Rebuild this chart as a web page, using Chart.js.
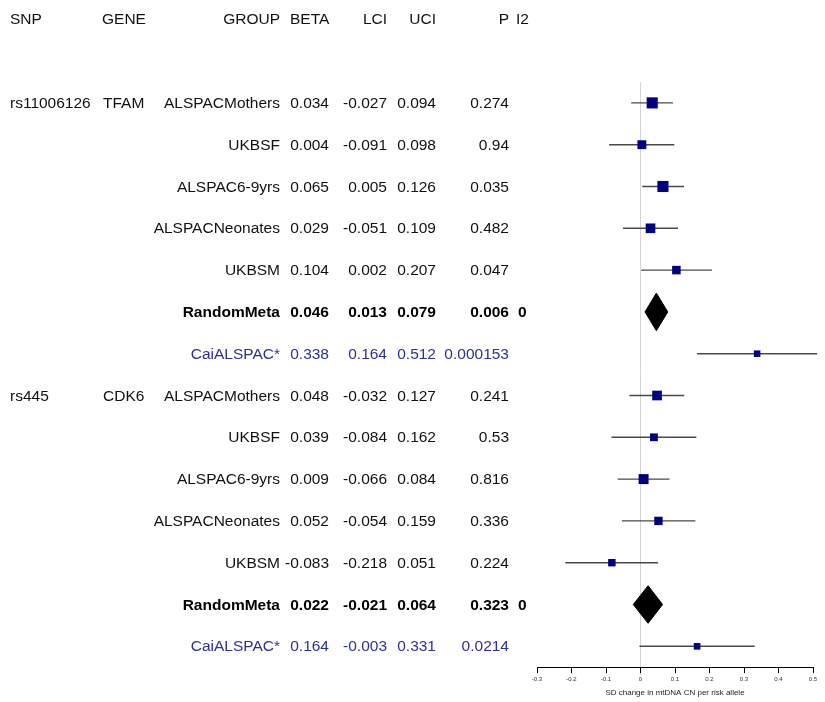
<!DOCTYPE html>
<html>
<head>
<meta charset="utf-8">
<script src="https://cdn.jsdelivr.net/npm/chart.js@4.4.1/dist/chart.umd.min.js"></script>
<style>
  html, body { margin: 0; padding: 0; background: #fff; }
  #wrap { position: relative; width: 825px; height: 702px; overflow: hidden; }
  #forest { position: absolute; left: 0; top: 0; }
  .cell { position: absolute; font-family: "Liberation Sans", Arial, sans-serif; font-size: 15.5px;
          line-height: 18px; color: #111; white-space: nowrap; }
  .bold { font-weight: bold; color: #000; }
  .blue { color: #2c3196; }
</style>
</head>
<body>
<div id="wrap">
  <canvas id="forest" width="825" height="702"></canvas>
</div>
<script>
// Forest plot: SNP effects on mtDNA copy number, two loci

const snps   = ['rs11006126', '', '', '', '', '', '', 'rs445', '', '', '', '', '', ''];
const genes  = ['TFAM', '', '', '', '', '', '', 'CDK6', '', '', '', '', '', ''];
const groups = ['ALSPACMothers', 'UKBSF', 'ALSPAC6-9yrs', 'ALSPACNeonates', 'UKBSM', 'RandomMeta', 'CaiALSPAC*',
                'ALSPACMothers', 'UKBSF', 'ALSPAC6-9yrs', 'ALSPACNeonates', 'UKBSM', 'RandomMeta', 'CaiALSPAC*'];
const beta = [0.034, 0.004, 0.065, 0.029, 0.104, 0.046, 0.338,
              0.048, 0.039, 0.009, 0.052, -0.083, 0.022, 0.164];
const lci  = [-0.027, -0.091, 0.005, -0.051, 0.002, 0.013, 0.164,
              -0.032, -0.084, -0.066, -0.054, -0.218, -0.021, -0.003];
const uci  = [0.094, 0.098, 0.126, 0.109, 0.207, 0.079, 0.512,
              0.127, 0.162, 0.084, 0.159, 0.051, 0.064, 0.331];
const pval = ['0.274', '0.94', '0.035', '0.482', '0.047', '0.006', '0.000153',
              '0.241', '0.53', '0.816', '0.336', '0.224', '0.323', '0.0214'];
const i2   = ['', '', '', '', '', '0', '', '', '', '', '', '', '0', ''];
const headers = ['SNP', 'GENE', 'GROUP', 'BETA', 'LCI', 'UCI', 'P', 'I2'];
const xTicks = [-0.3, -0.2, -0.1, 0, 0.1, 0.2, 0.3, 0.4, 0.5];

const fmt = v => v.toFixed(3);
const isMeta = i => groups[i] === 'RandomMeta';
const isCai = i => groups[i] === 'CaiALSPAC*';

// squares for the single studies, size from the CI width (1/sqrt(se))
const squares = [];
const squareRadius = [];
const ciSets = [];
const diamondSets = [];
groups.forEach((g, i) => {
  const row = i + 1;
  if (isMeta(i)) {
    diamondSets.push({
      type: 'line',
      data: [{x: lci[i], y: row}, {x: beta[i], y: row - 0.45}, {x: uci[i], y: row},
             {x: beta[i], y: row + 0.45}, {x: lci[i], y: row}],
      borderColor: '#000', backgroundColor: '#000', borderWidth: 1,
      pointRadius: 0, fill: 'shape', tension: 0, order: 0
    });
    return;
  }
  const se = (uci[i] - lci[i]) / 3.92;
  const side = 1.95 * Math.sqrt(1 / se);
  squares.push({x: beta[i], y: row});
  squareRadius.push(side / 2 / Math.SQRT1_2);
  ciSets.push({
    type: 'line',
    data: [{x: lci[i], y: row}, {x: uci[i], y: row}],
    borderColor: '#4a4a4a', borderWidth: 1.4, pointRadius: 0, fill: false, order: 2
  });
});

const chart = new Chart(document.getElementById('forest'), {
  type: 'scatter',
  data: {
    datasets: [
      {
        data: squares, pointStyle: 'rect', pointRadius: squareRadius,
        backgroundColor: '#000080', borderColor: '#000080', borderWidth: 0, order: 1
      },
      ...diamondSets,
      ...ciSets
    ]
  },
  options: {
    responsive: false,
    animation: false,
    clip: false,
    layout: { padding: { left: 537, right: 12, top: 82, bottom: 2 } },
    plugins: { legend: { display: false }, tooltip: { enabled: false } },
    scales: {
      x: {
        type: 'linear', min: -0.3, max: 0.5,
        afterBuildTicks: axis => { axis.ticks = xTicks.map(v => ({ value: v })); },
        grid: {
          color: c => (c.tick && c.tick.value === 0 ? '#d4d4d4' : 'rgba(0,0,0,0)'),
          tickColor: '#000', tickLength: 6, lineWidth: 1
        },
        border: { display: true, color: '#000', width: 1 },
        ticks: {
          padding: 3, maxRotation: 0, color: '#333',
          font: { family: 'Liberation Sans, Arial, sans-serif', size: 6 },
          callback: v => String(Math.round(v * 10) / 10)
        },
        title: {
          display: true, text: 'SD change in mtDNA CN per risk allele', color: '#222',
          padding: { top: 2, bottom: 2 },
          font: { family: 'Liberation Sans, Arial, sans-serif', size: 8 }
        }
      },
      y: { type: 'linear', min: 0.5, max: 14.5, reverse: true, display: false }
    }
  }
});

// table text placed on the chart's own y scale
const wrap = document.getElementById('wrap');
const yScale = chart.scales.y;
function put(text, y, x, align, cls) {
  if (text === '') return;
  const d = document.createElement('div');
  d.className = 'cell' + (cls ? ' ' + cls : '');
  d.textContent = text;
  d.style.top = (y - 9) + 'px';
  if (align === 'right') {
    d.style.left = (x - 200) + 'px';
    d.style.width = '200px';
    d.style.textAlign = 'right';
  } else {
    d.style.left = x + 'px';
  }
  wrap.appendChild(d);
}

const hy = yScale.getPixelForValue(-1);
put(headers[0], hy, 10, 'left');
put(headers[1], hy, 102, 'left');
put(headers[2], hy, 280, 'right');
put(headers[3], hy, 290, 'left');
put(headers[4], hy, 387, 'right');
put(headers[5], hy, 436, 'right');
put(headers[6], hy, 509, 'right');
put(headers[7], hy, 516, 'left');

groups.forEach((g, i) => {
  const y = yScale.getPixelForValue(i + 1);
  const cls = isMeta(i) ? 'bold' : (isCai(i) ? 'blue' : '');
  put(snps[i], y, 10, 'left', cls);
  put(genes[i], y, 103, 'left', cls);
  put(g, y, 280, 'right', cls);
  put(fmt(beta[i]), y, 329, 'right', cls);
  put(fmt(lci[i]), y, 387, 'right', cls);
  put(fmt(uci[i]), y, 436, 'right', cls);
  put(pval[i], y, 509, 'right', cls);
  put(i2[i], y, 518, 'left', cls);
});
</script>
</body>
</html>
